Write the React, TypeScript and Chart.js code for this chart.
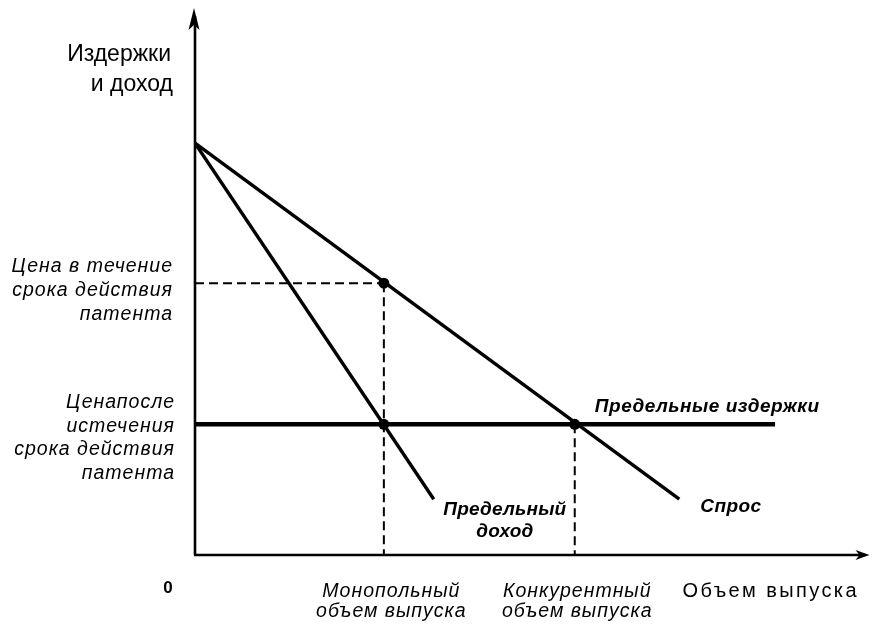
import { useEffect, useRef } from "react";
import { Chart, registerables } from "chart.js";

Chart.register(...registerables);

// Quantities (x) and prices (y) (axes run 0..100)
const demandQ = [0, 71.8];
const demandP = [75.3, 10.2];
const mrQ = [0, 35.4];
const mrP = [75.3, 10.2];
const mcQ = [0, 86.0];
const mcP = [23.9, 23.9];
const monopolyQ = 28.0;
const monopolyP = 49.7;
const competitiveQ = 56.3;
const axisMin = 0;
const axisMax = 100;

const yTitle = ["Издержки", "и доход"];
const patentPriceLabel = ["Цена в течение", "срока действия", "патента"];
const afterPatentLabel = ["Ценапосле", "истечения", "срока действия", "патента"];
const monopolyLabel = ["Монопольный", "объем выпуска"];
const competitiveLabel = ["Конкурентный", "объем выпуска"];
const xTitle = "Объем выпуска";
const originLabel = "0";
const mcLabel = "Предельные издержки";
const mrLabel = ["Предельный", "доход"];
const demandLabel = "Спрос";

const FONT = '"Liberation Sans", Arial, sans-serif';

const pts = (xs: number[], ys: number[]) => xs.map((x, i) => ({ x, y: ys[i] }));

const decorPlugin = {
  id: "decor",
  afterDatasetsDraw(chart: any) {
    const { ctx, chartArea, scales } = chart;
    const xs = scales.x;
    const ys = scales.y;
    const L = chartArea.left;
    const B = chartArea.bottom;
    const T = chartArea.top;
    const R = chartArea.right;
    ctx.save();
    ctx.fillStyle = "#000";
    ctx.strokeStyle = "#000";
    // axes
    ctx.lineWidth = 2.6;
    ctx.beginPath();
    ctx.moveTo(L, B);
    ctx.lineTo(L, T + 8);
    ctx.moveTo(L - 1, B);
    ctx.lineTo(R - 8, B);
    ctx.stroke();
    // arrowheads
    ctx.beginPath();
    ctx.moveTo(L - 1, T);
    ctx.lineTo(L + 4.5, T + 22);
    ctx.lineTo(L - 1, T + 17);
    ctx.lineTo(L - 6.5, T + 22);
    ctx.closePath();
    ctx.fill();
    ctx.beginPath();
    ctx.moveTo(R, B);
    ctx.lineTo(R - 14, B - 5);
    ctx.lineTo(R - 10, B);
    ctx.lineTo(R - 14, B + 5);
    ctx.closePath();
    ctx.fill();

    const text = (s: string, x: number, y: number, font: string, align: CanvasTextAlign, spacing = 0) => {
      ctx.font = font;
      (ctx as any).letterSpacing = spacing + "px";
      ctx.textAlign = align;
      ctx.textBaseline = "alphabetic";
      let dx = 0;
      if (spacing && align === "right") dx = spacing;
      if (spacing && align === "center") dx = spacing / 2;
      ctx.fillText(s, x + dx, y);
    };

    const upright = `23px ${FONT}`;
    const italic = `italic 19.5px ${FONT}`;
    const boldItalic = `italic bold 19px ${FONT}`;

    // y title
    text(yTitle[0], L - 24, 61, upright, "right");
    text(yTitle[1], L - 22, 91, upright, "right");

    // price during patent
    const pMono = ys.getPixelForValue(monopolyP);
    patentPriceLabel.forEach((s, i) => text(s, L - 23, pMono - 11 + i * 24, italic, "right", 1));
    // price after patent
    const pMc = ys.getPixelForValue(mcP[0]);
    afterPatentLabel.forEach((s, i) => text(s, L - 21, pMc - 16 + i * 23.5, italic, "right", 1));

    // x labels
    const qMono = xs.getPixelForValue(monopolyQ);
    const qComp = xs.getPixelForValue(competitiveQ);
    monopolyLabel.forEach((s, i) => text(s, qMono + 7, B + 42 + i * 20, italic, "center", 1));
    competitiveLabel.forEach((s, i) => text(s, qComp + 2, B + 42 + i * 20, italic, "center", 1));
    text(xTitle, R - 13, B + 42, `20px ${FONT}`, "right", 2.4);
    text(originLabel, L - 27, B + 38, `bold 17px ${FONT}`, "center");

    // curve labels
    text(mcLabel, xs.getPixelForValue(mcQ[1]) + 44, pMc - 12, boldItalic, "right", 0.5);
    const mrEndX = xs.getPixelForValue(mrQ[1]);
    const mrEndY = ys.getPixelForValue(mrP[1]);
    text(mrLabel[0], mrEndX + 71, mrEndY + 16, boldItalic, "center", 0.2);
    text(mrLabel[1], mrEndX + 71, mrEndY + 38, boldItalic, "center", 0.2);
    const dEndX = xs.getPixelForValue(demandQ[1]);
    const dEndY = ys.getPixelForValue(demandP[1]);
    text(demandLabel, dEndX + 21, dEndY + 13, boldItalic, "left", 0.4);

    ctx.restore();
  },
};

export default function App() {
  const ref = useRef<HTMLCanvasElement | null>(null);
  useEffect(() => {
    if (!ref.current) return;
    const black = "#000";
    const dash = [9, 5];
    const chart = new Chart(ref.current, {
      type: "scatter",
      data: {
        datasets: [
          {
            label: "Спрос",
            data: pts(demandQ, demandP),
            showLine: true,
            borderColor: black,
            borderWidth: 3.4,
            pointRadius: 0,
          },
          {
            label: "Предельный доход",
            data: pts(mrQ, mrP),
            showLine: true,
            borderColor: black,
            borderWidth: 3.4,
            pointRadius: 0,
          },
          {
            label: "Предельные издержки",
            data: pts(mcQ, mcP),
            showLine: true,
            borderColor: black,
            borderWidth: 4.5,
            pointRadius: 0,
          },
          {
            label: "guide price",
            data: [
              { x: axisMin, y: monopolyP },
              { x: monopolyQ, y: monopolyP },
            ],
            showLine: true,
            borderColor: black,
            borderWidth: 2,
            borderDash: dash,
            pointRadius: 0,
          },
          {
            label: "guide monopoly",
            data: [
              { x: monopolyQ, y: monopolyP },
              { x: monopolyQ, y: axisMin },
            ],
            showLine: true,
            borderColor: black,
            borderWidth: 2,
            borderDash: dash,
            pointRadius: 0,
          },
          {
            label: "guide competitive",
            data: [
              { x: competitiveQ, y: mcP[0] },
              { x: competitiveQ, y: axisMin },
            ],
            showLine: true,
            borderColor: black,
            borderWidth: 2,
            borderDash: dash,
            pointRadius: 0,
          },
          {
            label: "points",
            data: [
              { x: monopolyQ, y: monopolyP },
              { x: monopolyQ, y: mcP[0] },
              { x: competitiveQ, y: mcP[0] },
            ],
            showLine: false,
            pointRadius: 5.5,
            pointBackgroundColor: black,
            pointBorderColor: black,
            pointBorderWidth: 0,
          },
        ],
      },
      options: {
        animation: false,
        responsive: false,
        devicePixelRatio: 1,
        layout: { padding: { left: 195, right: 2, top: 8, bottom: 70 } },
        plugins: { legend: { display: false }, tooltip: { enabled: false } },
        scales: {
          x: { type: "linear", min: axisMin, max: axisMax, display: false },
          y: { type: "linear", min: axisMin, max: axisMax, display: false },
        },
      },
      plugins: [decorPlugin],
    });
    return () => chart.destroy();
  }, []);
  return (
    <div style={{ position: "fixed", left: 0, top: 0, width: 875, height: 625, background: "#fff" }}>
      <canvas ref={ref} width={875} height={625} />
    </div>
  );
}
